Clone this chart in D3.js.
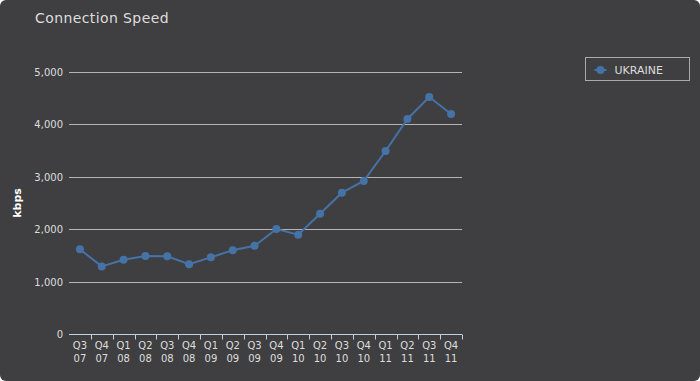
<!DOCTYPE html>
<html>
<head>
<meta charset="utf-8">
<script src="https://cdn.jsdelivr.net/npm/d3@7"></script>
<style>
  html, body { margin: 0; padding: 0; background: #fff; }
  svg { display: block; font-family: "DejaVu Sans", sans-serif; }
</style>
</head>
<body>
<svg id="chart" width="700" height="381"></svg>
<script>
var quarters = ["Q3", "Q4", "Q1", "Q2", "Q3", "Q4", "Q1", "Q2", "Q3", "Q4", "Q1", "Q2", "Q3", "Q4", "Q1", "Q2", "Q3", "Q4"];
var years = ["07", "07", "08", "08", "08", "08", "09", "09", "09", "09", "10", "10", "10", "10", "11", "11", "11", "11"];
var ukraine = [1616, 1290, 1418, 1489, 1483, 1330, 1463, 1600, 1685, 2003, 1895, 2296, 2697, 2920, 3492, 4103, 4523, 4198];
var yTicks = [0, 1000, 2000, 3000, 4000, 5000];

var svg = d3.select("#chart");
var width = 700, height = 381;
var margin = { left: 69, right: 238, top: 72, bottom: 47 };

svg.append("rect")
  .attr("width", width).attr("height", height)
  .attr("rx", 6).attr("ry", 6)
  .attr("fill", "#3f3f41");

svg.append("text")
  .attr("x", 35).attr("y", 23)
  .attr("fill", "#dddddd")
  .attr("font-size", 14)
  .attr("letter-spacing", 0.4)
  .text("Connection Speed");

var cats = quarters.map(function(q, i) { return i; });

var x = d3.scaleBand()
  .domain(cats)
  .range([margin.left, width - margin.right]);

var y = d3.scaleLinear()
  .domain([0, 5000])
  .range([height - margin.bottom, margin.top]);

// gridlines
svg.append("g")
  .selectAll("line")
  .data(yTicks.slice(1))
  .enter().append("line")
  .attr("x1", margin.left).attr("x2", width - margin.right)
  .attr("y1", function(d) { return Math.round(y(d)) + 0.5; })
  .attr("y2", function(d) { return Math.round(y(d)) + 0.5; })
  .attr("stroke", "#b4b4b4")
  .attr("stroke-width", 1);

// y labels
svg.append("g")
  .selectAll("text")
  .data(yTicks)
  .enter().append("text")
  .attr("x", margin.left - 6)
  .attr("y", function(d) { return y(d) + 4; })
  .attr("text-anchor", "end")
  .attr("fill", "#dddddd")
  .attr("font-size", 10)
  .text(function(d) { return d3.format(",")(d); });

svg.append("text")
  .attr("transform", "translate(21," + y(2500) + ") rotate(-90)")
  .attr("text-anchor", "middle")
  .attr("fill", "#ffffff")
  .attr("font-size", 11)
  .attr("font-weight", "bold")
  .text("kbps");

// x axis
var axisY = Math.round(y(0)) + 0.5;
svg.append("line")
  .attr("x1", margin.left).attr("x2", width - margin.right)
  .attr("y1", axisY).attr("y2", axisY)
  .attr("stroke", "#c0d0e0");

svg.append("g")
  .selectAll("line")
  .data(cats.slice(1).concat([cats.length]))
  .enter().append("line")
  .attr("x1", function(d) { return Math.round(margin.left + d * x.step()) + 0.5; })
  .attr("x2", function(d) { return Math.round(margin.left + d * x.step()) + 0.5; })
  .attr("y1", axisY).attr("y2", axisY + 5)
  .attr("stroke", "#c0d0e0");

var xl = svg.append("g")
  .selectAll("text")
  .data(cats)
  .enter().append("text")
  .attr("text-anchor", "middle")
  .attr("fill", "#dddddd")
  .attr("font-size", 10);
xl.append("tspan")
  .attr("x", function(d) { return x(d) + x.bandwidth() / 2; })
  .attr("y", axisY + 14)
  .text(function(d) { return quarters[d]; });
xl.append("tspan")
  .attr("x", function(d) { return x(d) + x.bandwidth() / 2; })
  .attr("y", axisY + 27)
  .text(function(d) { return years[d]; });

// series
var color = "#4572a7";
var line = d3.line()
  .x(function(d, i) { return x(i) + x.bandwidth() / 2; })
  .y(function(d) { return y(d); });

svg.append("path")
  .datum(ukraine)
  .attr("d", line)
  .attr("fill", "none")
  .attr("stroke", color)
  .attr("stroke-width", 2);

svg.append("g")
  .selectAll("circle")
  .data(ukraine)
  .enter().append("circle")
  .attr("cx", function(d, i) { return x(i) + x.bandwidth() / 2; })
  .attr("cy", function(d) { return y(d); })
  .attr("r", 4)
  .attr("fill", color);

// legend
var lg = svg.append("g").attr("transform", "translate(585.5,57.5)");
lg.append("rect")
  .attr("width", 104).attr("height", 23)
  .attr("fill", "none")
  .attr("stroke", "#aaaaaa");
lg.append("line")
  .attr("x1", 9).attr("x2", 21).attr("y1", 12.5).attr("y2", 12.5)
  .attr("stroke", color).attr("stroke-width", 2);
lg.append("circle")
  .attr("cx", 15).attr("cy", 12.5).attr("r", 4).attr("fill", color);
lg.append("text")
  .attr("x", 29).attr("y", 16.5)
  .attr("fill", "#dddddd")
  .attr("font-size", 11)
  .text("UKRAINE");
</script>
</body>
</html>
